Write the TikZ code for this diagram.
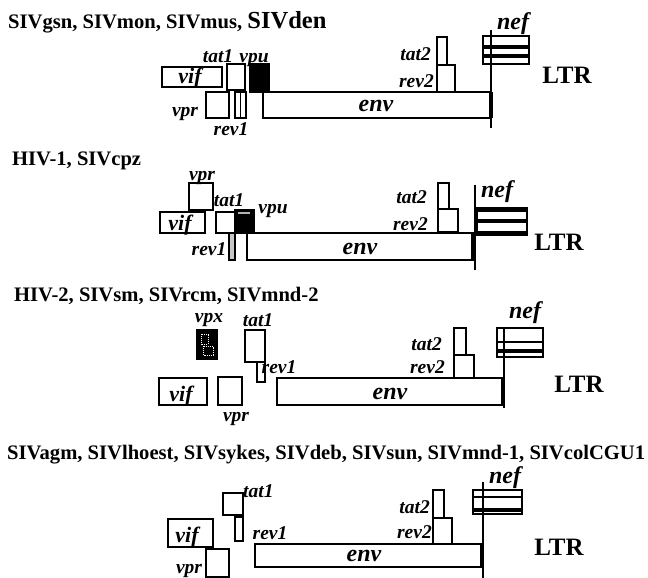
\documentclass[tikz,border=0pt]{standalone}
\usepackage{fontspec}
\setmainfont{Liberation Serif}
\usetikzlibrary{fit}
\newcommand\fsz[1]{\fontsize{#1}{#1}\selectfont}
\tikzset{
  gbox/.style={draw, line width=2.2pt, inner sep=0pt, outer sep=0pt, fill=white},
  fbox/.style={gbox, fill=black},
  ttl/.style={font=\fsz{20.6}\bfseries, anchor=base west, inner sep=0pt},
  lab/.style={font=\fsz{19.5}\bfseries\itshape, anchor=base, inner sep=0pt},
  viflab/.style={font=\fsz{22}\bfseries\itshape, anchor=base, inner sep=0pt},
  biglab/.style={font=\fsz{24}\bfseries\itshape, anchor=base, inner sep=0pt},
  ltr/.style={font=\fsz{25}\bfseries, anchor=base, inner sep=0pt},
  ltrline/.style={line width=2.3pt},
  stripe/.style={line width=3.2pt},
}
\begin{document}
\begin{tikzpicture}[x=1pt,y=-1pt]
\path[use as bounding box] (0,0) rectangle (648,578);

% ---------------- panel 1
\node[ttl] (t1) at (8,29) {SIVgsn, SIVmon, SIVmus, {\fsz{24.5}SIVden}};
\node[gbox, fit={(162,67)(222,87)}] (vifA) {};
\node[viflab] (vifAl) at (190,84) {vif};
\node[gbox, fit={(227,64)(245,90)}] (tatA) {};
\node[fbox, fit={(250,64)(269,92)}] (vpuA) {};
\node[gbox, fit={(206,92)(229,118)}] (vprA) {};
\node[gbox, fit={(235,92)(246,118)}] (revA) {};
\draw[line width=1.4pt] (revA.north) -- (revA.south);
\node[gbox, fit={(263,92)(491,118)}] (envA) {};
\node[gbox, fit={(437,37)(447,65)}] (tat2A) {};
\node[gbox, fit={(437,65)(455,92)}] (rev2A) {};
\coordinate (lAt) at (491,30);
\coordinate (lAb) at (491,128);
\draw[line width=3.8pt] (envA.north east) -- (envA.south east);
\node[gbox, fit={(483,36)(529,64)}] (nefA) {};
\draw[ltrline] (lAt) -- (lAb);
\draw[stripe] (nefA.west |- 0,47) -- (nefA.east |- 0,47);
\draw[stripe] (nefA.west |- 0,56) -- (nefA.east |- 0,56);
\node[lab] (tatAl) at (218,63) {tat1};
\node[lab] (vpuAl) at (254,63) {vpu};
\node[lab] (vprAl) at (185,116) {vpr};
\node[lab] (revAl) at (231,135) {rev1};
\node[lab, anchor=base east] (tat2Al) at (431,61) {tat2};
\node[lab, anchor=base east] (rev2Al) at (434,88) {rev2};
\node[biglab] (envAl) at (376,111) {env};
\node[biglab] (nefAl) at (513,30) {nef};
\node[ltr] (ltrA) at (567,84) {LTR};

% ---------------- panel 2
\node[ttl] (t2) at (12,165) {HIV-1, SIVcpz};
\node[gbox, fit={(189,183)(213,210)}] (vprB) {};
\node[gbox, fit={(160,212)(205,233)}] (vifB) {};
\node[viflab] (vifBl) at (180,230) {vif};
\node[gbox, fit={(216,212)(235,233)}] (tatB) {};
\node[fbox, fit={(235,210)(254,233)}] (vpuB) {};
\draw[line width=1.5pt, gray!60] (238,213) -- (250,213);
\node[gbox, fill=gray!45, fit={(229,233)(235,260)}] (revB) {};
\node[gbox, fit={(247,233)(473,260)}] (envB) {};
\node[gbox, fit={(438,183)(449,209)}] (tat2B) {};
\node[gbox, fit={(438,209)(458,232)}] (rev2B) {};
\node[gbox, fit={(477,208)(527,235)}] (nefB) {};
\draw[stripe] (nefB.west |- 0,210) -- (nefB.east |- 0,210);
\draw[stripe] (nefB.west |- 0,221) -- (nefB.east |- 0,221);
\draw[stripe] (nefB.west |- 0,233) -- (nefB.east |- 0,233);
\coordinate (lBt) at (475,185);
\coordinate (lBb) at (475,270);
\draw[ltrline] (lBt) -- (lBb);
\draw[line width=3.8pt] (envB.north east) -- (envB.south east);
\node[lab] (vprBl) at (202,180) {vpr};
\node[lab] (tatBl) at (229,206) {tat1};
\node[lab] (vpuBl) at (273,213) {vpu};
\node[lab] (revBl) at (209,255) {rev1};
\node[lab, anchor=base east] (tat2Bl) at (427,203) {tat2};
\node[lab, anchor=base east] (rev2Bl) at (428,230) {rev2};
\node[biglab] (envBl) at (360,254) {env};
\node[biglab] (nefBl) at (497,197) {nef};
\node[ltr] (ltrB) at (559,250) {LTR};

% ---------------- panel 3
\node[ttl] (t3) at (14,301) {HIV-2, SIVsm, SIVrcm, SIVmnd-2};
\node[fbox, fit={(197,330)(217,359)}] (vpxC) {};
\draw[white, densely dotted, line width=0.9pt] (201,334) rectangle (208,344);
\draw[white, densely dotted, line width=0.9pt] (203,346) rectangle (213,355);
\node[gbox, fit={(245,330)(265,362)}] (tatC) {};
\node[gbox, fit={(257,362)(265,382)}] (revC) {};
\node[gbox, fit={(159,378)(207,405)}] (vifC) {};
\node[viflab] (vifCl) at (181,401) {vif};
\node[gbox, fit={(218,377)(242,405)}] (vprC) {};
\node[gbox, fit={(277,378)(503,405)}] (envC) {};
\node[gbox, fit={(454,328)(466,355)}] (tat2C) {};
\node[gbox, fit={(454,355)(474,378)}] (rev2C) {};
\node[gbox, fit={(497,328)(543,357)}] (nefC) {};
\draw[stripe, line width=2pt] (nefC.west |- 0,342) -- (nefC.east |- 0,342);
\draw[stripe] (nefC.west |- 0,351) -- (nefC.east |- 0,351);
\coordinate (lCt) at (504,328);
\coordinate (lCb) at (504,408);
\draw[ltrline] (lCt) -- (lCb);
\draw[line width=3.8pt] (envC.north east) -- (envC.south east);
\node[lab] (vpxCl) at (209,322) {vpx};
\node[lab] (tatCl) at (258,326) {tat1};
\node[lab] (revCl) at (279,373) {rev1};
\node[lab] (vprCl) at (236,421) {vpr};
\node[lab, anchor=base east] (tat2Cl) at (442,350) {tat2};
\node[lab, anchor=base east] (rev2Cl) at (445,373) {rev2};
\node[biglab] (envCl) at (390,399) {env};
\node[biglab] (nefCl) at (525,318) {nef};
\node[ltr] (ltrC) at (579,392) {LTR};

% ---------------- panel 4
\node[ttl] (t4) at (7,459) {SIVagm, SIVlhoest, SIVsykes, SIVdeb, SIVsun, SIVmnd-1, SIVcolCGU1};
\node[gbox, fit={(223,493)(243,515)}] (tatD) {};
\node[gbox, fit={(235,517)(243,541)}] (revD) {};
\node[gbox, fit={(168,519)(213,547)}] (vifD) {};
\node[viflab] (vifDl) at (187,542) {vif};
\node[gbox, fit={(206,549)(229,577)}] (vprD) {};
\node[gbox, fit={(255,544)(482,567)}] (envD) {};
\node[gbox, fit={(433,490)(444,518)}] (tat2D) {};
\node[gbox, fit={(433,518)(452,544)}] (rev2D) {};
\node[gbox, fit={(473,490)(522,514)}] (nefD) {};
\draw[stripe, line width=2pt] (nefD.west |- 0,497) -- (nefD.east |- 0,497);
\draw[stripe] (nefD.west |- 0,510) -- (nefD.east |- 0,510);
\coordinate (lDt) at (483,482);
\coordinate (lDb) at (483,578);
\draw[ltrline] (lDt) -- (lDb);
\draw[line width=3.8pt] (envD.north east) -- (envD.south east);
\node[lab, anchor=base west] (tatDl) at (243,497) {tat1};
\node[lab] (revDl) at (270,539) {rev1};
\node[lab] (vprDl) at (189,573) {vpr};
\node[lab, anchor=base east] (tat2Dl) at (430,513) {tat2};
\node[lab, anchor=base east] (rev2Dl) at (432,538) {rev2};
\node[biglab] (envDl) at (364,561) {env};
\node[biglab] (nefDl) at (505,483) {nef};
\node[ltr] (ltrD) at (559,555) {LTR};
\end{tikzpicture}
\end{document}
